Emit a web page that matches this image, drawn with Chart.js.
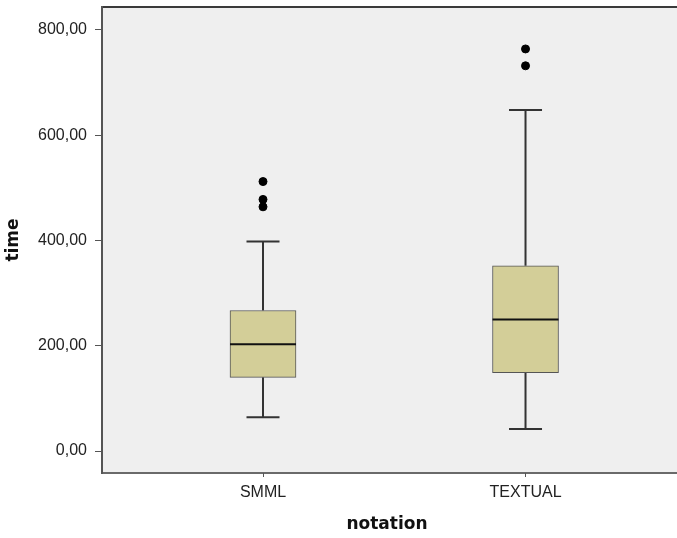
<!DOCTYPE html>
<html>
<head>
<meta charset="utf-8">
<script src="https://cdn.jsdelivr.net/npm/chart.js@4"></script>
<style>
  html, body { margin: 0; padding: 0; background: #ffffff; }
  #wrap { width: 677px; height: 538px; }
</style>
</head>
<body>
<div id="wrap"><canvas id="boxChart" width="677" height="538"></canvas></div>
<script>
// values
const categories = ["SMML", "TEXTUAL"];
const whiskerLow = [64, 42];
const q1 = [140, 149];
const median = [203, 250];
const q3 = [267, 352];
const whiskerHigh = [398, 648];
const outliers = [[512, 478, 464], [764, 732]];
const yTicks = [0, 200, 400, 600, 800];

const fmt = v => v.toFixed(2).replace(".", ",");

// whiskers + caps + median line, drawn with the chart scales
const boxParts = {
    id: "boxParts",
    beforeDatasetsDraw(chart) {
        const {ctx, scales: {x, y}} = chart;
        ctx.save();
        ctx.strokeStyle = "#333333";
        ctx.lineWidth = 2;
        categories.forEach((c, i) => {
            const px = x.getPixelForValue(i);
            const cap = 16.5;
            ctx.beginPath();
            ctx.moveTo(px, y.getPixelForValue(whiskerLow[i]));
            ctx.lineTo(px, y.getPixelForValue(q1[i]));
            ctx.moveTo(px, y.getPixelForValue(q3[i]));
            ctx.lineTo(px, y.getPixelForValue(whiskerHigh[i]));
            ctx.moveTo(px - cap, y.getPixelForValue(whiskerLow[i]));
            ctx.lineTo(px + cap, y.getPixelForValue(whiskerLow[i]));
            ctx.moveTo(px - cap, y.getPixelForValue(whiskerHigh[i]));
            ctx.lineTo(px + cap, y.getPixelForValue(whiskerHigh[i]));
            ctx.stroke();
        });
        ctx.restore();
    },
    afterDatasetsDraw(chart) {
        const {ctx, scales: {x, y}} = chart;
        ctx.save();
        ctx.strokeStyle = "#111111";
        ctx.lineWidth = 2;
        categories.forEach((c, i) => {
            const px = x.getPixelForValue(i);
            const py = y.getPixelForValue(median[i]);
            ctx.beginPath();
            ctx.moveTo(px - 33, py);
            ctx.lineTo(px + 33, py);
            ctx.stroke();
        });
        ctx.restore();
    }
};

// grey plot background, top and bottom frame lines (run off the right edge like the crop)
const frame = {
    id: "frame",
    beforeDraw(chart) {
        const {ctx, chartArea: a} = chart;
        const right = chart.width;
        ctx.save();
        ctx.fillStyle = "#efefef";
        ctx.fillRect(a.left, a.top, right - a.left, a.bottom - a.top);
        ctx.lineWidth = 2;
        ctx.strokeStyle = "#3a3a3a";
        ctx.beginPath();
        ctx.moveTo(a.left, a.top);
        ctx.lineTo(right, a.top);
        ctx.stroke();
        ctx.strokeStyle = "#6a6a6a";
        ctx.beginPath();
        ctx.moveTo(a.left, a.bottom);
        ctx.lineTo(right, a.bottom);
        ctx.stroke();
        ctx.restore();
    }
};

const outlierPoints = [];
outliers.forEach((list, i) => list.forEach(v => outlierPoints.push({x: i, y: v})));

const tickFont = {family: "'Liberation Sans', Arial, sans-serif", size: 16};
const titleFont = {family: "'DejaVu Sans', sans-serif", size: 17, weight: "bold"};

new Chart(document.getElementById("boxChart"), {
    type: "bar",
    data: {
        datasets: [
            {
                type: "bar",
                data: categories.map((c, i) => ({x: i, y: [q1[i], q3[i]]})),
                backgroundColor: "#d3ce98",
                borderColor: "#555555",
                borderWidth: 1,
                borderSkipped: false,
                barThickness: 66,
            },
            {
                type: "scatter",
                data: outlierPoints,
                backgroundColor: "#000000",
                borderColor: "#000000",
                pointRadius: 4,
            },
        ],
    },
    options: {
        responsive: false,
        animation: false,
        layout: {padding: {top: 7, right: 0, bottom: 0, left: 0}},
        plugins: {
            legend: {display: false},
            tooltip: {enabled: false},
        },
        scales: {
            x: {
                type: "linear",
                min: -0.6133,
                max: 1.558,
                offset: false,
                afterFit: s => {
                    s.height = 65;
                    s.paddingLeft = 0;
                    s.paddingRight = 0;
                },
                afterBuildTicks: s => { s.ticks = categories.map((c, i) => ({value: i})); },
                grid: {offset: false, drawOnChartArea: false, tickLength: 4, color: "#555555"},
                border: {display: false},
                ticks: {
                    callback: v => categories[v],
                    color: "#222222",
                    padding: 6,
                    font: tickFont,
                },
                title: {
                    display: true,
                    text: "notation",
                    color: "#111111",
                    padding: {top: 3, bottom: 3},
                    font: titleFont,
                },
            },
            y: {
                min: -41.8,
                max: 843.7,
                afterFit: s => {
                    s.width = 102;
                    s.paddingTop = 0;
                    s.paddingBottom = 0;
                },
                afterBuildTicks: s => { s.ticks = yTicks.map(v => ({value: v})); },
                grid: {drawOnChartArea: false, tickLength: 7, color: "#555555"},
                border: {color: "#555555", width: 2},
                ticks: {
                    callback: v => fmt(v),
                    color: "#222222",
                    padding: 8,
                    font: tickFont,
                },
                title: {
                    display: true,
                    text: "time",
                    color: "#111111",
                    padding: {top: 3, bottom: 0},
                    font: titleFont,
                },
            },
        },
    },
    plugins: [frame, boxParts],
});
</script>
</body>
</html>
